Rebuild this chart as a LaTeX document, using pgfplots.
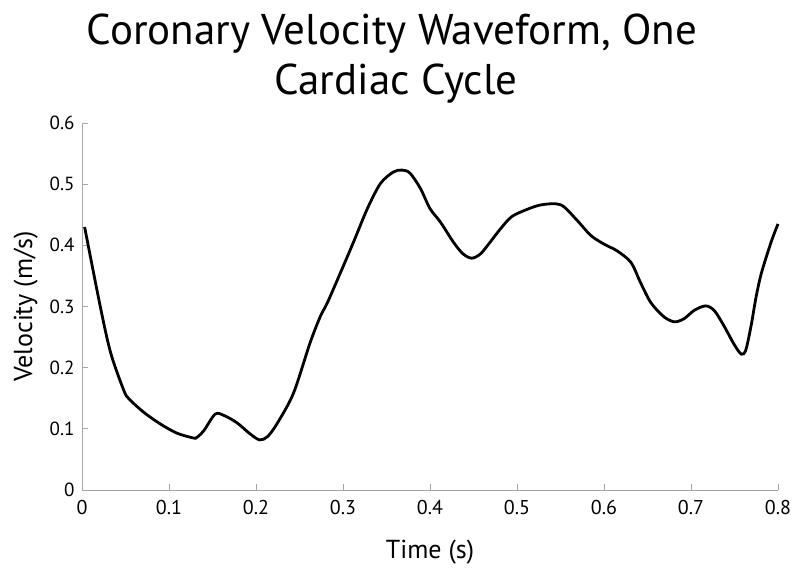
\documentclass[border=0pt]{standalone}
\usepackage{fontspec}
\setmainfont{PT Sans}
\usepackage{pgfplots}
\pgfplotsset{compat=1.18}
\begin{document}
\begin{tikzpicture}
\useasboundingbox (0,0) rectangle (800bp,573bp);
\node[font=\fontsize{43bp}{50bp}\selectfont, anchor=base] at (392bp,528bp) {Coronary Velocity Waveform, One};
\node[font=\fontsize{43bp}{50bp}\selectfont, anchor=base] at (396bp,478bp) {Cardiac Cycle};
\begin{axis}[
  at={(82bp,83bp)}, anchor=south west,
  scale only axis, width=696bp, height=367bp,
  xmin=0, xmax=0.8, ymin=0, ymax=0.6,
  axis x line*=bottom, axis y line*=left,
  axis line style={gray!70, line width=0.8bp},
  xtick={0,0.1,...,0.8}, ytick={0,0.1,...,0.6},
  tick align=inside, major tick length=6bp,
  tick style={gray!70, line width=0.8bp},
  /pgf/number format/assume math mode=true,
  /pgf/number format/fixed,
  xticklabel style={font=\fontsize{20bp}{22bp}\selectfont, yshift=-7bp},
  yticklabel style={font=\fontsize{19bp}{20bp}\selectfont, xshift=-4bp},
  xlabel={Time (s)}, ylabel={Velocity (m/s)},
  label style={font=\fontsize{26bp}{28bp}\selectfont},
  xlabel style={yshift=-18bp},
  ylabel style={yshift=5bp},
  clip=false,
]
\addplot[black, line width=2.8bp, smooth, tension=0.5] coordinates {
(0.003,0.430) (0.021,0.300) (0.033,0.224) (0.048,0.163) (0.054,0.149)
(0.071,0.127) (0.090,0.108) (0.109,0.093) (0.128,0.085) (0.132,0.086)
(0.140,0.097) (0.153,0.124) (0.163,0.122) (0.178,0.110) (0.193,0.092)
(0.204,0.082) (0.213,0.087) (0.224,0.108) (0.243,0.158) (0.262,0.240)
(0.274,0.284) (0.282,0.306) (0.297,0.355) (0.312,0.405) (0.328,0.460)
(0.343,0.501) (0.358,0.520) (0.368,0.523) (0.377,0.518) (0.389,0.493)
(0.400,0.460) (0.412,0.438) (0.427,0.405) (0.438,0.386) (0.448,0.379)
(0.458,0.386) (0.469,0.405) (0.481,0.427) (0.494,0.447) (0.512,0.459)
(0.527,0.466) (0.544,0.468) (0.554,0.463) (0.569,0.441) (0.585,0.416)
(0.600,0.402) (0.615,0.391) (0.631,0.372) (0.642,0.339) (0.654,0.306)
(0.669,0.283) (0.681,0.275) (0.692,0.280) (0.704,0.294) (0.717,0.301)
(0.727,0.293) (0.738,0.268) (0.750,0.237) (0.758,0.222) (0.763,0.229)
(0.769,0.268) (0.775,0.317) (0.781,0.355) (0.792,0.405) (0.800,0.435)
};
\end{axis}
\end{tikzpicture}
\end{document}
